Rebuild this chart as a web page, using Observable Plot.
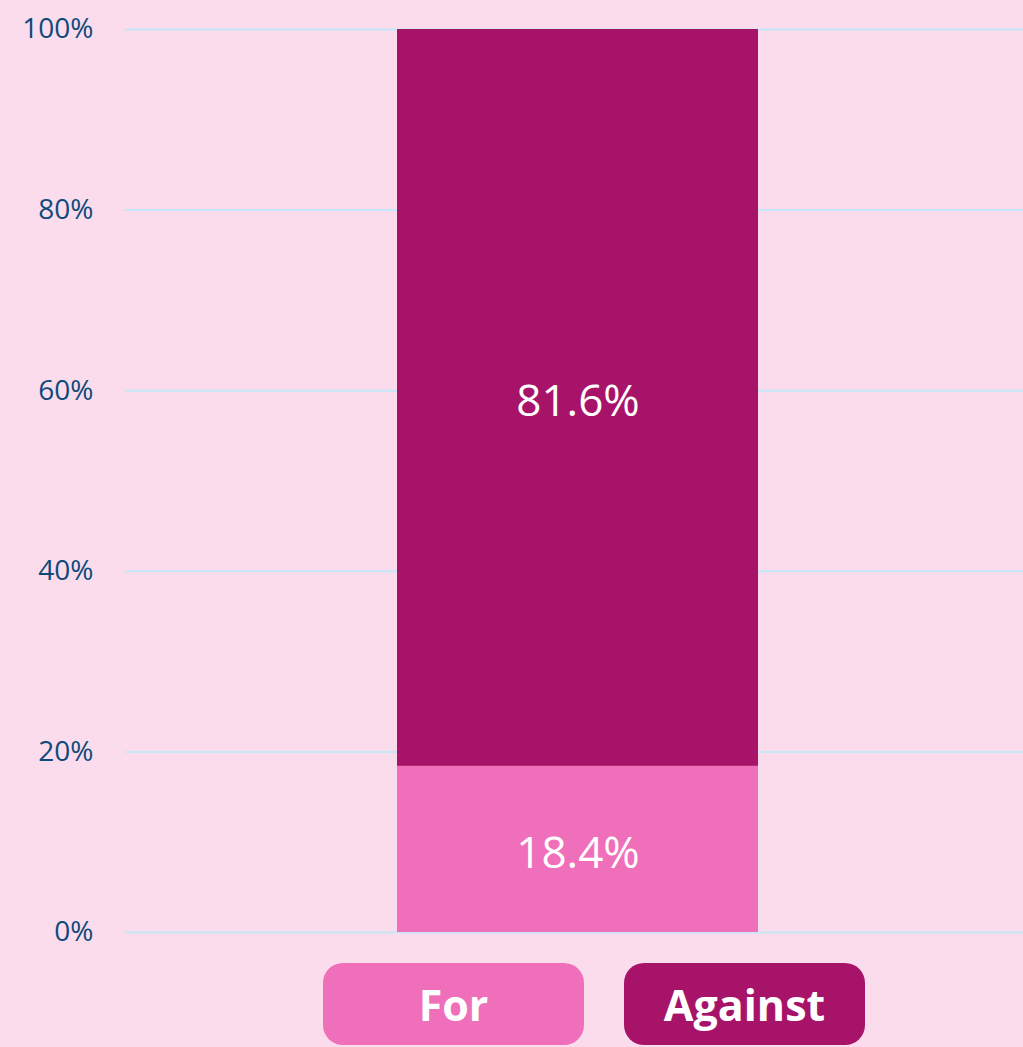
<!DOCTYPE html>
<html>
<head>
<meta charset="utf-8">
<script src="https://cdn.jsdelivr.net/npm/d3@7"></script>
<script src="https://cdn.jsdelivr.net/npm/@observablehq/plot@0.6"></script>
<style>
  html, body { margin: 0; padding: 0; background: #fbdcec; }
  body { width: 1023px; height: 1047px; overflow: hidden; position: relative; font-family: "Open Sans", sans-serif; }
  #chart svg { display: block; }
  .legend { position: absolute; top: 963px; left: 0; width: 1023px; height: 90px; }
  .legend .item { position: absolute; top: 0; height: 82px; border-radius: 20px; color: #fff; font-weight: 700; font-size: 43px; display: flex; align-items: center; justify-content: center; font-family: "Open Sans", sans-serif; }
</style>
</head>
<body>
<div id="chart"></div>
<div class="legend" id="legend"></div>
<script>
const categories = ["For", "Against"];
const values = [18.4, 81.6];
const colors = ["#f06fba", "#a8136a"];
const yTicks = [0, 20, 40, 60, 80, 100];
const group = "All";

const data = categories.map((c, i) => ({ group, category: c, value: values[i] }));

const chart = Plot.plot({
  width: 1023,
  height: 956,
  marginTop: 29,
  marginBottom: 24,
  marginLeft: 125,
  marginRight: 0,
  style: { background: "#fbdcec", fontFamily: "Open Sans, sans-serif" },
  x: { domain: [group], padding: 0.4255, align: 0.506, axis: null },
  y: { domain: [0, 100], ticks: yTicks, label: null },
  color: { domain: categories, range: colors },
  marks: [
    Plot.gridY(yTicks, { stroke: "#c5e8f8", strokeOpacity: 1, strokeWidth: 2 }),
    Plot.axisY(yTicks, { tickSize: 0, tickPadding: 32, fontSize: 28, fill: "#0d4a7a", tickFormat: d => d + "%", label: null }),
    Plot.barY(data, Plot.stackY({ x: "group", y: "value", z: "category", fill: "category", order: categories })),
    Plot.text(data, Plot.stackY({ x: "group", y: "value", z: "category", order: categories, text: d => d.value.toFixed(1) + "%", fill: "#ffffff", fontSize: 44, dy: 4 }))
  ]
});
document.getElementById("chart").appendChild(chart);

const legend = document.getElementById("legend");
const boxes = [{ left: 323, width: 261 }, { left: 624, width: 241 }];
categories.forEach((c, i) => {
  const el = document.createElement("div");
  el.className = "item";
  el.style.left = boxes[i].left + "px";
  el.style.width = boxes[i].width + "px";
  el.style.background = colors[i];
  el.textContent = c;
  legend.appendChild(el);
});
</script>
</body>
</html>
